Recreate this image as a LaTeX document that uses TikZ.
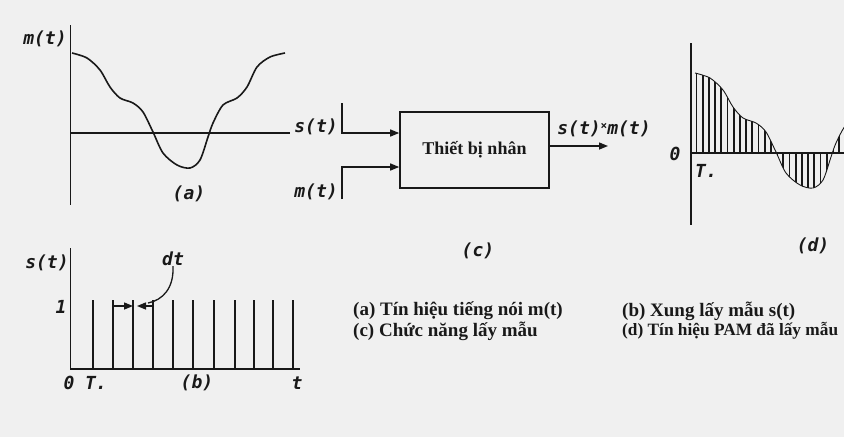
\documentclass[tikz,border=0pt]{standalone}
\usepackage{fontspec}
\setmainfont{Liberation Serif}
\newfontfamily\lblfont{DejaVu Sans Mono}
\usetikzlibrary{arrows.meta}
\definecolor{paper}{RGB}{240,240,240}
\definecolor{ink}{RGB}{25,25,25}
\begin{document}
\begin{tikzpicture}[x=1pt,y=-1pt,
  ax/.style={draw=ink, line width=1.6pt},
  wave/.style={draw=ink, line width=1.6pt},
  stem/.style={draw=ink, line width=1.7pt},
  pulse/.style={draw=ink, line width=2pt},
  lbl/.style={font=\lblfont\bfseries\itshape\fontsize{18}{20}\selectfont, text=ink, inner sep=0pt},
  captext/.style={font=\bfseries\fontsize{19}{21}\selectfont, text=ink, anchor=west, inner sep=0pt},
  tip/.style={-{Triangle[length=9pt,width=7pt]}, draw=ink, line width=1.4pt},
  block/.style={draw=ink, line width=1.6pt, minimum width=149pt, minimum height=76pt,
    font=\bfseries\fontsize{18}{21}\selectfont, text=ink, inner sep=0pt},
]
\useasboundingbox (0,0) rectangle (844,437);
\fill[paper] (0,0) rectangle (844,437);
\clip (0,0) rectangle (844,437);

% ---------- panel (a) ----------
\draw[ax] (70.5,25) -- (70.5,205);
\draw[ax] (70.5,133) -- (290,133);
\draw[wave] plot[smooth] coordinates {(72,53) (87,58) (100,70) (110,87) (120,98) (133,103) (143,112) (153,132) (163,153) (177,165) (190,168) (200,160) (208,137) (213,123) (223,105) (237,98) (247,87) (257,67) (270,57) (285,53)};
\node[lbl] (mtA) at (45,39) {m(t)};
\node[lbl] (capA) at (189,194) {(a)};

% ---------- panel (c) ----------
\node[block] (mult) at (474.5,150) {Thiết bị nhân};
\coordinate (sTop) at (342,103);
\coordinate (sCorner) at (342,133);
\coordinate (mBot) at (342,199);
\coordinate (mCorner) at (342,167);
\coordinate (outEnd) at (608,146);
\draw[tip] (sTop) -- (sCorner) -- (sCorner -| mult.west);
\draw[tip] (mBot) -- (mCorner) -- (mCorner -| mult.west);
\draw[tip] (mult.east |- outEnd) -- (outEnd);
\node[lbl] (stC) at (316,127) {s(t)};
\node[lbl] (mtC) at (316,192) {m(t)};
\node[lbl] (prod) at (604,129) {s(t)\raisebox{0.5ex}{\fontsize{11}{11}\selectfont×}m(t)};
\node[lbl] (capC) at (478,251) {(c)};

% ---------- panel (d) ----------
\draw[ax] (691,43) -- (691,225);
\begin{scope}[shift={(623,20)}]
  \begin{scope}
    \clip plot[smooth] coordinates {(72,53) (87,58) (100,70) (110,87) (120,98) (133,103) (143,112) (153,132) (163,153) (177,165) (190,168) (200,160) (208,137) (213,123) (223,105) (237,98) (247,87) (257,67) (270,57) (285,53)} -- (285,133) -- (72,133) -- cycle;
    \foreach \i in {0,...,34} \draw[stem] (73.5+\i*6.2,40) -- (73.5+\i*6.2,190);
  \end{scope}
  \draw[draw=ink, line width=0.9pt] plot[smooth] coordinates {(72,53) (87,58) (100,70) (110,87) (120,98) (133,103) (143,112) (153,132) (163,153) (177,165) (190,168) (200,160) (208,137) (213,123) (223,105) (237,98) (247,87) (257,67) (270,57) (285,53)};
\end{scope}
\draw[ax] (691,153) -- (844,153);
\node[lbl] (zeroD) at (675,154) {0};
\node[lbl] (tsD) at (706,171) {T.};
\node[lbl] (capD) at (813,246) {(d)};

% ---------- panel (b) ----------
\draw[ax] (70.5,248) -- (70.5,369.5);
\draw[ax] (70.5,369) -- (300,369);
\foreach \x in {93,113,133,153,173,193,214,235,254,273,293}
  \draw[pulse] (\x,369) -- (\x,300);
\node[lbl] (stB) at (47,263) {s(t)};
\node[lbl] (oneB) at (61,307) {1};
\node[lbl] (zeroB) at (69,383) {0};
\node[lbl] (tsB) at (96,383) {T.};
\node[lbl] (capB) at (197,383) {(b)};
\node[lbl] (tB) at (297,383) {t};
\node[lbl] (dt) at (173,259) {dt};
\coordinate (dtL1) at (114,306);
\coordinate (dtR1) at (133,306);
\coordinate (dtL2) at (152,306);
\coordinate (dtR2) at (137,306);
\draw[tip] (dtL1) -- (dtR1);
\draw[tip] (dtL2) -- (dtR2);
\draw[draw=ink, line width=1.3pt] (dt.south) .. controls (174,288) and (163,300) .. (148,303);

% ---------- captions ----------
\node[captext] (c1) at (353,311) {(a) Tín hiệu tiếng nói m(t)};
\node[captext] (c2) at (353,331) {(c) Chức năng lấy mẫu};
\node[captext] (c3) at (622,311) {(b) Xung lấy mẫu s(t)};
\node[captext, font=\bfseries\fontsize{17.3}{20}\selectfont] (c4) at (622,331) {(d) Tín hiệu PAM đã lấy mẫu};
\end{tikzpicture}
\end{document}
